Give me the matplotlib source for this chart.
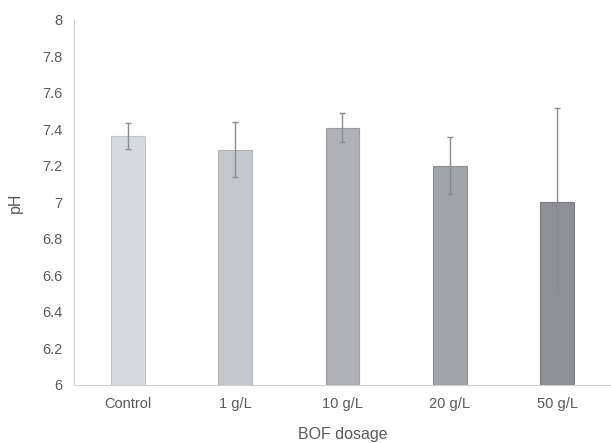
import numpy as np
import matplotlib
matplotlib.use('Agg')
import matplotlib.pyplot as plt

plt.rcParams['font.family'] = ['Liberation Sans', 'DejaVu Sans']

# data
dosages = ['Control', '1 g/L', '10 g/L', '20 g/L', '50 g/L']
ph_mean = [7.365, 7.29, 7.41, 7.20, 7.005]
ph_err = [0.072, 0.152, 0.08, 0.156, 0.51]
yticks = [6, 6.2, 6.4, 6.6, 6.8, 7, 7.2, 7.4, 7.6, 7.8, 8]
ytick_labels = ['6', '6.2', '6.4', '6.6', '6.8', '7', '7.2', '7.4', '7.6', '7.8', '8']

bar_colors = ['#d8d9db', '#c6c7c9', '#b0b1b4', '#a2a3a6', '#8f9093']
edge_colors = ['#c4c5c7', '#b2b3b5', '#9c9da0', '#8e8f92', '#7b7c7f']
txt = '#595959'

fig = plt.figure(figsize=(6.11, 4.43), dpi=100)
ax = fig.add_axes([0.121, 0.131, 0.879, 0.824])

x = np.arange(len(dosages))
ax.bar(x, np.array(ph_mean) - 6, bottom=6, width=0.315, color=bar_colors,
       edgecolor=edge_colors, linewidth=0.8, zorder=2)
ax.errorbar(x, ph_mean, yerr=ph_err, fmt='none', ecolor='#8c8c8c',
            elinewidth=1, capsize=2.5, capthick=1, zorder=3)

ax.set_xlim(-0.5, len(dosages) - 0.5)
ax.set_ylim(6, 8)
ax.set_xticks(x)
ax.set_xticklabels(dosages, fontsize=10.5, color=txt)
ax.set_yticks(yticks)
ax.set_yticklabels(ytick_labels, fontsize=10.5, color=txt)
ax.tick_params(length=0, pad=9)
ax.tick_params(axis='y', pad=8)

for s in ['top', 'right']:
    ax.spines[s].set_visible(False)
ax.spines['left'].set_color('#d0d0d0')
ax.spines['bottom'].set_color('#d0d0d0')

ax.set_xlabel('BOF dosage', fontsize=11.5, color=txt, labelpad=11)
ax.set_ylabel('pH', fontsize=11.5, color=txt, labelpad=14)

fig.savefig('out.png', dpi=100)
